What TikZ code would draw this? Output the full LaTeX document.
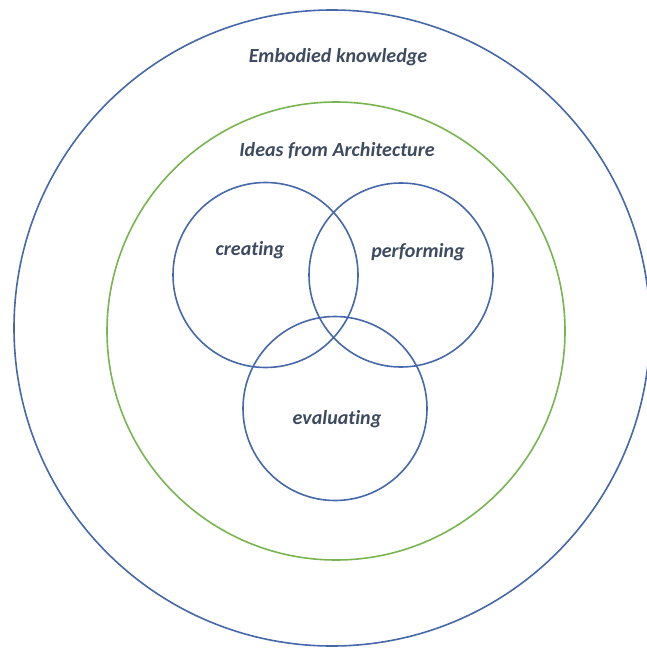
\documentclass[tikz,border=0pt]{standalone}
\usepackage{fontspec}
\setmainfont[Ligatures=NoCommon]{Carlito}
\usepackage{tikz}
\usepackage{xcolor}
\definecolor{ringblue}{RGB}{70, 104, 170}
\definecolor{ringgreen}{RGB}{120, 180, 80}
\definecolor{labelslate}{RGB}{62, 74, 96}

\begin{document}
\begin{tikzpicture}[x=1pt, y=-1pt]
  \tikzset{
    ring/.style={line width=1.6pt},
    venn/.style={ring, ringblue},
    lbl/.style={font=\fontsize{20}{22}\selectfont\bfseries\itshape, text=labelslate, inner sep=0pt}
  }
  \useasboundingbox (0,0) rectangle (646,652);

  % outer rings
  \draw[ring, ringblue] (332,328) circle (318);
  \draw[ring, ringgreen] (336,331) circle (229);

  % the three overlapping circles
  \draw[venn] (265.5,275) circle (92.5);
  \draw[venn] (401,275) circle (92);
  \draw[venn] (335,408.5) circle (92);

  % labels
  \node[lbl] (embodied) at (338,57) {Embodied knowledge};
  \node[lbl] (ideas) at (337,151) {Ideas from Architecture};
  \node[lbl] (creating) at (250,250) {creating};
  \node[lbl] (performing) at (418,252) {performing};
  \node[lbl] (evaluating) at (337,419) {evaluating};

\end{tikzpicture}
\end{document}
